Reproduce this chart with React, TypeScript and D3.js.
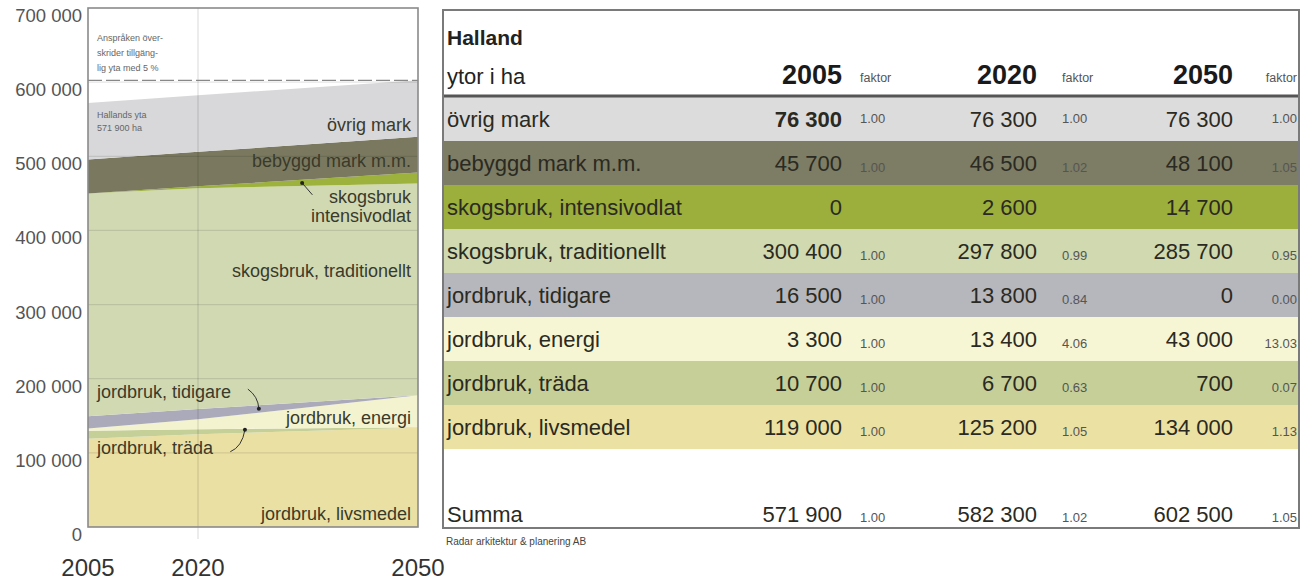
import React from "react";
import * as d3 from "d3";

const years = [2005, 2020, 2050];
const categories = [
  "övrig mark",
  "bebyggd mark m.m.",
  "skogsbruk, intensivodlat",
  "skogsbruk, traditionellt",
  "jordbruk, tidigare",
  "jordbruk, energi",
  "jordbruk, träda",
  "jordbruk, livsmedel",
];
const values2005 = [76300, 45700, 0, 300400, 16500, 3300, 10700, 119000];
const values2020 = [76300, 46500, 2600, 297800, 13800, 13400, 6700, 125200];
const values2050 = [76300, 48100, 14700, 285700, 0, 43000, 700, 134000];
const faktor2005 = ["1.00", "1.00", "", "1.00", "1.00", "1.00", "1.00", "1.00"];
const faktor2020 = ["1.00", "1.02", "", "0.99", "0.84", "4.06", "0.63", "1.05"];
const faktor2050 = ["1.00", "1.05", "", "0.95", "0.00", "13.03", "0.07", "1.13"];
const sums = [571900, 582300, 602500];
const sumFaktor = ["1.00", "1.02", "1.05"];
const yTicks = [0, 100000, 200000, 300000, 400000, 500000, 600000, 700000];

const areaColors = ["#d8d8da", "#7a795f", "#9db23c", "#d1d9b3", "#aaaaba", "#f4f3cf", "#c5cf98", "#ebe0a3"];
const rowColors = ["#dcdcdd", "#7d7c64", "#9cae3c", "#d0d9b0", "#b6b6bd", "#f7f6d4", "#c6cf97", "#ebe1a2"];

const loc = d3.formatLocale({ decimal: ".", thousands: " ", grouping: [3], currency: ["", ""] });
const fmt = loc.format(",");

const FONT = "'Liberation Sans', Arial, sans-serif";

export default function App() {
  const x = d3.scaleLinear().domain([2005, 2050]).range([88, 418]);
  const y = d3.scaleLinear().domain([0, 700000]).range([527, 8]);

  const allVals = [values2005, values2020, values2050];
  const rows = years.map((yr, i) => {
    const o: any = { year: yr };
    categories.forEach((c, j) => (o[c] = allVals[i][j]));
    return o;
  });
  const keys = categories.slice().reverse();
  const series = d3.stack().keys(keys)(rows);
  const area = d3
    .area<any>()
    .x((d) => x(d.data.year))
    .y0((d) => y(d[0]))
    .y1((d) => y(d[1]));

  const tableLeft = 443;
  const tableRight = 1299;
  const rowTop = 97;
  const rowH = 44;
  const valRight = [842, 1037, 1233];
  const fakX = [860, 1062, 1297];
  const fakAnchor = ["start", "start", "end"];
  const facts = [faktor2005, faktor2020, faktor2050];

  const rightLabelX = x(2050) - 7;
  const leftLabelX = x(2005) + 9;

  return (
    <svg width={1312} height={580} style={{ position: "absolute", left: 0, top: 0, background: "#fff" }} fontFamily={FONT}>
      {series.map((s) => (
        <path key={s.key} d={area(s as any) || ""} fill={areaColors[categories.indexOf(s.key)]} />
      ))}
      {yTicks.slice(1, -1).map((t) => (
        <line key={t} x1={x(2005)} x2={x(2050)} y1={y(t)} y2={y(t)} stroke="#000" strokeOpacity={0.1} strokeWidth={1.2} />
      ))}
      <line x1={x(2020)} x2={x(2020)} y1={y(700000)} y2={y(0) + 12} stroke="#000" strokeOpacity={0.15} strokeWidth={1} />
      <line x1={x(2005)} x2={x(2050)} y1={y(sums[2])} y2={y(sums[2])} stroke="#888" strokeWidth={1.2} strokeDasharray="14 4" />
      <rect x={x(2005)} y={y(700000)} width={x(2050) - x(2005)} height={y(0) - y(700000)} fill="none" stroke="#8a8a8a" strokeWidth={1.6} />
      {yTicks.map((t) => (
        <text key={t} x={82} y={y(t) + 14} textAnchor="end" fontSize={18.5} fill="#555">
          {fmt(t)}
        </text>
      ))}
      {years.map((yr) => (
        <text key={yr} x={x(yr)} y={576} textAnchor="middle" fontSize={24} fill="#333">
          {yr}
        </text>
      ))}
      <g fontSize={9} fill="#666">
        <text x={leftLabelX} y={y(655500)}>Anspråken över-</text>
        <text x={leftLabelX} y={y(635300)}>skrider tillgäng-</text>
        <text x={leftLabelX} y={y(615000)}>lig yta med 5 %</text>
        <text x={leftLabelX} y={y(551600)}>Hallands yta</text>
        <text x={leftLabelX} y={y(534100)}>571 900 ha</text>
      </g>
      <g fontSize={18} fill="#3a3a2a">
        <text x={rightLabelX} y={y(534000)} textAnchor="end">övrig mark</text>
        <text x={rightLabelX} y={y(485600)} textAnchor="end">bebyggd mark m.m.</text>
        <text x={rightLabelX} y={y(437500)} textAnchor="end">skogsbruk</text>
        <text x={rightLabelX} y={y(412000)} textAnchor="end">intensivodlat</text>
        <text x={rightLabelX} y={y(337200)} textAnchor="end">skogsbruk, traditionellt</text>
        <text x={leftLabelX} y={y(174000)}>jordbruk, tidigare</text>
        <text x={rightLabelX} y={y(138900)} textAnchor="end">jordbruk, energi</text>
        <text x={leftLabelX} y={y(98500)}>jordbruk, träda</text>
        <text x={rightLabelX} y={y(9400)} textAnchor="end">jordbruk, livsmedel</text>
      </g>
      <g stroke="#333" strokeWidth={1} fill="none">
        <path d={`M${x(2035.6)},${y(448000)} L${x(2034.2)},${y(464000)}`} />
        <path d={`M${x(2026.8)},${y(186000)} Q${x(2028.2)},${y(176000)} ${x(2028.3)},${y(159500)}`} />
        <path d={`M${x(2024.4)},${y(101500)} Q${x(2026.0)},${y(108000)} ${x(2026.4)},${y(131000)}`} />
      </g>
      <g fill="#222">
        <circle cx={x(2034.2)} cy={y(464000)} r={2} />
        <circle cx={x(2028.3)} cy={y(159500)} r={2} />
        <circle cx={x(2026.4)} cy={y(131000)} r={2} />
      </g>

      {categories.map((c, i) => (
        <rect key={c} x={tableLeft} y={rowTop + i * rowH} width={tableRight - tableLeft} height={rowH} fill={rowColors[i]} />
      ))}
      <text x={447} y={45} fontSize={21} fontWeight="bold" fill="#222">Halland</text>
      <text x={447} y={84} fontSize={22} fill="#222">ytor i ha</text>
      {years.map((yr, k) => (
        <g key={yr}>
          <text x={valRight[k]} y={84} textAnchor="end" fontSize={27} fontWeight="bold" fill="#1a1a1a">{yr}</text>
          <text x={fakX[k]} y={82} textAnchor={fakAnchor[k] as any} fontSize={12.5} fill="#555">faktor</text>
        </g>
      ))}
      {categories.map((c, i) => {
        const cy = rowTop + i * rowH + rowH / 2 + 8;
        return (
          <g key={c}>
            <text x={447} y={cy} fontSize={22} fill="#2a2a22">{c}</text>
            {allVals.map((vals, k) => (
              <text key={k} x={valRight[k]} y={cy} textAnchor="end" fontSize={22} fill="#2a2a22" fontWeight={i === 0 && k === 0 ? "bold" : "normal"}>
                {fmt(vals[i])}
              </text>
            ))}
            {facts.map((f, k) => (
              <text key={k} x={fakX[k]} y={cy + (i === 0 ? -4 : 1)} textAnchor={fakAnchor[k] as any} fontSize={13} fill="#555">
                {f[i]}
              </text>
            ))}
          </g>
        );
      })}
      <text x={447} y={522} fontSize={22} fill="#2a2a22">Summa</text>
      {sums.map((s, k) => (
        <g key={k}>
          <text x={valRight[k]} y={522} textAnchor="end" fontSize={22} fill="#2a2a22">{fmt(s)}</text>
          <text x={fakX[k]} y={522} textAnchor={fakAnchor[k] as any} fontSize={13} fill="#555">{sumFaktor[k]}</text>
        </g>
      ))}
      <line x1={tableLeft} x2={tableRight} y1={rowTop - 1} y2={rowTop - 1} stroke="#555" strokeWidth={3} />
      <rect x={tableLeft} y={10} width={tableRight - tableLeft} height={518} fill="none" stroke="#7a7a7a" strokeWidth={2} />
      <text x={446} y={545} fontSize={10} fill="#444">Radar arkitektur &amp; planering AB</text>
    </svg>
  );
}
